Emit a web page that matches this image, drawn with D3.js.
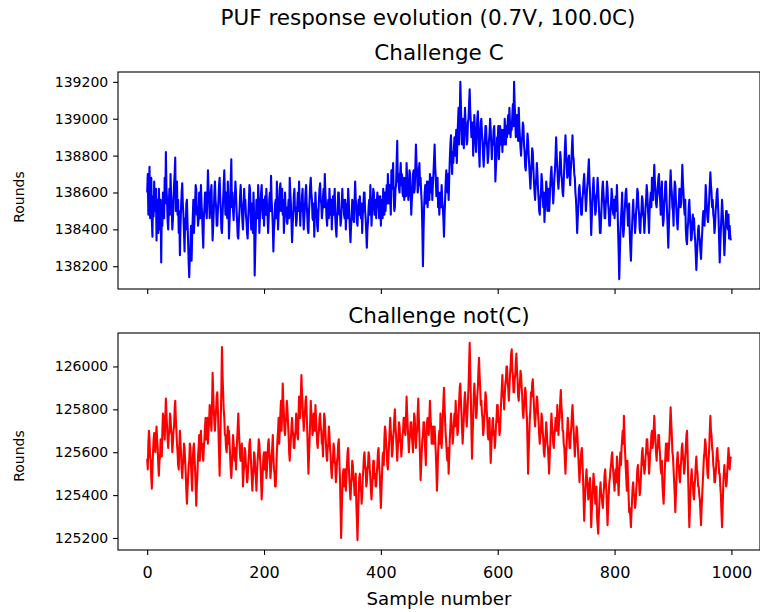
<!DOCTYPE html>
<html>
<head>
<meta charset="utf-8">
<script src="https://cdn.jsdelivr.net/npm/d3@7"></script>
<style>
  body { margin: 0; background: #fff; }
  svg text { font-family: "DejaVu Sans", sans-serif; fill: #000; }
</style>
</head>
<body>
<svg id="canvas" width="760" height="612"></svg>
<script>
// one reading per sample
let sampleStep = 1
let sampleCount = 1000

let challengeC = [
  138600, 138700, 138480, 138620, 138740, 138460, 138560, 138680, 138450, 138360, 138580, 138470, 138660, 138540, 138500, 138620, 138340, 138560, 138480, 138380,
  138620, 138520, 138400, 138560, 138220, 138500, 138420, 138600, 138560, 138460, 138680, 138540, 138820, 138620, 138560, 138440, 138400, 138520, 138620, 138480,
  138700, 138580, 138520, 138400, 138450, 138560, 138640, 138700, 138790, 138500, 138600, 138660, 138480, 138560, 138380, 138500, 138260, 138420, 138520, 138600,
  138650, 138540, 138480, 138380, 138280, 138460, 138400, 138540, 138560, 138440, 138340, 138220, 138140, 138260, 138300, 138420, 138230, 138360, 138460, 138560,
  138380, 138460, 138540, 138640, 138620, 138480, 138520, 138420, 138450, 138600, 138560, 138460, 138640, 138540, 138480, 138380, 138300, 138460, 138520, 138600,
  138600, 138500, 138460, 138580, 138720, 138620, 138580, 138460, 138520, 138600, 138640, 138480, 138340, 138420, 138500, 138600, 138660, 138560, 138520, 138420,
  138420, 138500, 138560, 138640, 138680, 138580, 138500, 138400, 138380, 138480, 138560, 138640, 138720, 138580, 138480, 138600, 138560, 138460, 138660, 138560,
  138350, 138440, 138540, 138660, 138780, 138520, 138600, 138500, 138450, 138540, 138560, 138660, 138600, 138500, 138440, 138360, 138350, 138440, 138500, 138580,
  138640, 138560, 138520, 138440, 138400, 138500, 138620, 138540, 138560, 138480, 138440, 138380, 138350, 138460, 138540, 138640, 138620, 138500, 138400, 138540,
  138460, 138380, 138600, 138480, 138150, 138300, 138420, 138560, 138540, 138460, 138640, 138560, 138380, 138460, 138520, 138600, 138640, 138520, 138460, 138560,
  138420, 138520, 138580, 138480, 138620, 138540, 138480, 138380, 138460, 138560, 138600, 138500, 138690, 138560, 138500, 138420, 138280, 138400, 138440, 138540,
  138560, 138460, 138660, 138560, 138400, 138480, 138520, 138620, 138650, 138500, 138540, 138620, 138480, 138560, 138380, 138480, 138600, 138500, 138520, 138440,
  138430, 138500, 138560, 138460, 138680, 138600, 138540, 138440, 138330, 138420, 138480, 138580, 138620, 138500, 138520, 138420, 138450, 138540, 138600, 138500,
  138660, 138540, 138420, 138520, 138500, 138580, 138620, 138480, 138400, 138460, 138520, 138600, 138640, 138540, 138480, 138400, 138380, 138500, 138560, 138640,
  138680, 138600, 138560, 138460, 138450, 138540, 138360, 138480, 138600, 138520, 138500, 138420, 138390, 138480, 138560, 138620, 138650, 138560, 138540, 138460,
  138500, 138580, 138620, 138520, 138700, 138600, 138540, 138460, 138420, 138520, 138560, 138460, 138620, 138540, 138480, 138560, 138400, 138500, 138580, 138480,
  138560, 138620, 138460, 138400, 138360, 138460, 138520, 138600, 138600, 138480, 138500, 138420, 138450, 138540, 138620, 138520, 138560, 138480, 138460, 138560,
  138400, 138480, 138540, 138460, 138620, 138560, 138480, 138400, 138330, 138420, 138460, 138560, 138540, 138460, 138440, 138560, 138660, 138560, 138520, 138440,
  138420, 138520, 138560, 138480, 138580, 138500, 138460, 138540, 138380, 138480, 138520, 138600, 138600, 138500, 138460, 138380, 138300, 138400, 138440, 138520,
  138560, 138480, 138640, 138540, 138420, 138500, 138540, 138620, 138600, 138480, 138500, 138560, 138460, 138540, 138600, 138520, 138580, 138460, 138500, 138580,
  138420, 138520, 138560, 138460, 138620, 138540, 138480, 138600, 138500, 138580, 138640, 138540, 138700, 138600, 138540, 138640, 138560, 138480, 138720, 138620,
  138680, 138760, 138580, 138500, 138520, 138620, 138640, 138760, 138880, 138660, 138700, 138620, 138600, 138700, 138760, 138640, 138700, 138600, 138580, 138680,
  138560, 138640, 138680, 138580, 138760, 138680, 138640, 138560, 138600, 138720, 138700, 138600, 138480, 138560, 138600, 138700, 138720, 138600, 138620, 138740,
  138860, 138760, 138700, 138600, 138620, 138720, 138760, 138640, 138680, 138600, 138540, 138400, 138200, 138380, 138520, 138600, 138640, 138540, 138560, 138660,
  138520, 138600, 138660, 138560, 138700, 138620, 138600, 138680, 138560, 138640, 138700, 138780, 138860, 138740, 138680, 138580, 138600, 138680, 138520, 138600,
  138480, 138560, 138600, 138520, 138640, 138560, 138520, 138460, 138360, 138480, 138560, 138660, 138720, 138640, 138600, 138700, 138560, 138680, 138780, 138860,
  138910, 138800, 138700, 138820, 138760, 138840, 138900, 138800, 138850, 138940, 138760, 138880, 138980, 139060, 138860, 139000, 139200, 139080, 138960, 138860,
  138920, 139000, 138840, 138940, 139060, 138980, 138940, 138860, 138880, 138980, 139000, 139080, 139160, 139040, 138980, 138900, 138900, 138980, 138800, 138900,
  139020, 138940, 138880, 138820, 138920, 139000, 139040, 138940, 138820, 138740, 138900, 138980, 139000, 138920, 138880, 138800, 138740, 138820, 138880, 138960,
  138960, 138880, 138840, 138760, 138800, 138880, 138920, 139000, 138940, 138860, 138780, 138880, 138860, 138940, 138960, 138860, 138660, 138740, 138800, 138900,
  138880, 138960, 138780, 138860, 138960, 138880, 138860, 138940, 138820, 138900, 138940, 138860, 139000, 138920, 138860, 138960, 138900, 138980, 139020, 138920,
  139060, 138980, 138900, 138980, 138940, 139020, 139080, 138960, 139200, 139080, 139000, 138900, 138920, 139020, 138980, 138880, 139060, 138960, 138900, 138840,
  138800, 138880, 138900, 138980, 138960, 138860, 138820, 138740, 138720, 138800, 138840, 138920, 138880, 138800, 138740, 138680, 138620, 138700, 138760, 138840,
  138820, 138740, 138660, 138600, 138560, 138640, 138680, 138760, 138700, 138620, 138560, 138500, 138480, 138560, 138600, 138700, 138660, 138580, 138520, 138600,
  138440, 138520, 138560, 138660, 138620, 138500, 138540, 138620, 138500, 138560, 138640, 138700, 138740, 138660, 138620, 138540, 138600, 138680, 138720, 138800,
  138900, 138800, 138740, 138660, 138620, 138680, 138720, 138820, 138780, 138700, 138660, 138600, 138580, 138660, 138740, 138840, 138910, 138820, 138760, 138680,
  138700, 138780, 138800, 138700, 138640, 138720, 138760, 138840, 138910, 138800, 138780, 138700, 138680, 138600, 138560, 138480, 138380, 138460, 138520, 138620,
  138640, 138580, 138560, 138480, 138480, 138560, 138600, 138660, 138700, 138620, 138580, 138500, 138560, 138620, 138660, 138720, 138780, 138680, 138600, 138500,
  138370, 138460, 138540, 138620, 138680, 138600, 138560, 138480, 138500, 138580, 138600, 138680, 138620, 138540, 138460, 138380, 138380, 138460, 138540, 138620,
  138660, 138600, 138540, 138460, 138460, 138540, 138580, 138660, 138620, 138540, 138500, 138420, 138420, 138500, 138540, 138620, 138580, 138500, 138480, 138560,
  138460, 138520, 138580, 138500, 138640, 138540, 138400, 138280, 138130, 138260, 138380, 138460, 138520, 138600, 138440, 138360, 138400, 138480, 138540, 138600,
  138620, 138540, 138500, 138420, 138460, 138540, 138380, 138300, 138230, 138340, 138420, 138500, 138560, 138460, 138480, 138380, 138420, 138500, 138540, 138620,
  138600, 138520, 138480, 138400, 138380, 138460, 138500, 138580, 138560, 138480, 138460, 138380, 138440, 138520, 138560, 138640, 138600, 138520, 138460, 138380,
  138500, 138560, 138600, 138520, 138680, 138620, 138560, 138660, 138750, 138660, 138620, 138540, 138520, 138580, 138620, 138680, 138700, 138600, 138560, 138480,
  138600, 138660, 138500, 138420, 138450, 138540, 138580, 138660, 138660, 138560, 138480, 138400, 138300, 138420, 138520, 138640, 138720, 138640, 138600, 138520,
  138500, 138420, 138580, 138660, 138640, 138560, 138500, 138440, 138400, 138480, 138540, 138620, 138620, 138520, 138540, 138640, 138750, 138660, 138600, 138520,
  138480, 138560, 138400, 138340, 138320, 138400, 138440, 138520, 138560, 138480, 138420, 138340, 138350, 138420, 138480, 138400, 138460, 138380, 138340, 138260,
  138180, 138260, 138320, 138400, 138420, 138360, 138340, 138280, 138240, 138320, 138380, 138460, 138500, 138440, 138420, 138520, 138640, 138580, 138520, 138460,
  138440, 138500, 138560, 138640, 138710, 138640, 138600, 138520, 138560, 138480, 138460, 138380, 138420, 138500, 138540, 138600, 138620, 138540, 138460, 138340,
  138220, 138320, 138400, 138480, 138560, 138500, 138440, 138360, 138260, 138340, 138420, 138500, 138500, 138420, 138400, 138480, 138350, 138420, 138360, 138340
]

let challengeNotC = [
  125570, 125520, 125640, 125700, 125660, 125580, 125560, 125480, 125430, 125520, 125600, 125660, 125690, 125620, 125600, 125680, 125720, 125660, 125620, 125540,
  125490, 125560, 125580, 125660, 125640, 125580, 125700, 125780, 125760, 125700, 125660, 125760, 125850, 125780, 125720, 125660, 125620, 125680, 125700, 125780,
  125760, 125700, 125680, 125600, 125640, 125700, 125720, 125800, 125840, 125760, 125700, 125640, 125600, 125540, 125520, 125620, 125700, 125640, 125600, 125520,
  125480, 125540, 125560, 125640, 125620, 125560, 125500, 125420, 125360, 125420, 125480, 125540, 125560, 125640, 125620, 125540, 125480, 125420, 125560, 125620,
  125640, 125580, 125520, 125440, 125350, 125440, 125500, 125580, 125620, 125680, 125560, 125620, 125700, 125620, 125640, 125580, 125560, 125620, 125660, 125720,
  125760, 125660, 125680, 125760, 125640, 125700, 125740, 125820, 125800, 125740, 125700, 125820, 125970, 125880, 125800, 125740, 125700, 125760, 125800, 125860,
  125880, 125800, 125700, 125600, 125490, 125620, 125760, 125900, 126090, 125960, 125880, 125800, 125760, 125680, 125680, 125620, 125600, 125660, 125720, 125640,
  125700, 125640, 125580, 125520, 125480, 125540, 125600, 125680, 125640, 125580, 125560, 125620, 125520, 125600, 125660, 125720, 125780, 125700, 125640, 125580,
  125560, 125600, 125640, 125560, 125440, 125500, 125540, 125620, 125600, 125540, 125520, 125460, 125480, 125540, 125580, 125640, 125660, 125600, 125540, 125480,
  125420, 125480, 125520, 125600, 125580, 125520, 125480, 125420, 125500, 125560, 125600, 125660, 125640, 125580, 125540, 125460, 125380, 125440, 125520, 125580,
  125600, 125520, 125540, 125600, 125480, 125520, 125580, 125640, 125660, 125600, 125560, 125480, 125520, 125580, 125620, 125680, 125580, 125520, 125500, 125440,
  125440, 125520, 125600, 125660, 125700, 125760, 125640, 125700, 125780, 125840, 125700, 125800, 125920, 125840, 125780, 125700, 125680, 125740, 125760, 125840,
  125800, 125740, 125680, 125600, 125560, 125620, 125660, 125720, 125760, 125700, 125680, 125620, 125620, 125680, 125700, 125780, 125740, 125680, 125660, 125760,
  125860, 125800, 125760, 125860, 125960, 125880, 125820, 125760, 125700, 125760, 125780, 125840, 125860, 125780, 125700, 125600, 125500, 125580, 125660, 125740,
  125840, 125780, 125760, 125680, 125700, 125780, 125760, 125700, 125820, 125760, 125700, 125640, 125620, 125680, 125700, 125760, 125780, 125720, 125700, 125640,
  125640, 125580, 125700, 125780, 125760, 125700, 125640, 125580, 125560, 125620, 125640, 125720, 125680, 125620, 125580, 125520, 125480, 125540, 125560, 125640,
  125620, 125560, 125540, 125460, 125500, 125560, 125580, 125640, 125660, 125560, 125480, 125340, 125200, 125320, 125420, 125500, 125520, 125440, 125460, 125520,
  125420, 125480, 125540, 125600, 125620, 125540, 125480, 125420, 125380, 125440, 125480, 125560, 125540, 125480, 125460, 125400, 125440, 125500, 125360, 125280,
  125190, 125300, 125400, 125480, 125500, 125420, 125440, 125360, 125400, 125480, 125520, 125580, 125600, 125540, 125520, 125440, 125460, 125520, 125540, 125600,
  125580, 125520, 125480, 125420, 125380, 125440, 125480, 125560, 125560, 125480, 125500, 125440, 125440, 125500, 125540, 125600, 125620, 125540, 125500, 125420,
  125340, 125420, 125500, 125580, 125600, 125540, 125660, 125720, 125700, 125640, 125600, 125540, 125520, 125580, 125640, 125700, 125760, 125700, 125660, 125580,
  125600, 125660, 125700, 125760, 125800, 125720, 125680, 125620, 125560, 125620, 125660, 125740, 125720, 125660, 125640, 125580, 125620, 125680, 125700, 125760,
  125760, 125700, 125680, 125760, 125860, 125780, 125720, 125660, 125600, 125660, 125680, 125740, 125740, 125680, 125640, 125600, 125700, 125780, 125760, 125680,
  125620, 125680, 125700, 125780, 125850, 125760, 125680, 125580, 125470, 125540, 125600, 125660, 125680, 125740, 125740, 125660, 125600, 125540, 125680, 125740,
  125760, 125700, 125680, 125760, 125840, 125760, 125720, 125640, 125640, 125720, 125700, 125640, 125720, 125660, 125600, 125520, 125420, 125500, 125600, 125660,
  125700, 125640, 125780, 125700, 125620, 125680, 125760, 125840, 125900, 125820, 125740, 125680, 125640, 125580, 125560, 125620, 125500, 125580, 125660, 125720,
  125780, 125720, 125700, 125640, 125680, 125740, 125780, 125720, 125840, 125780, 125760, 125680, 125700, 125780, 125840, 125900, 125920, 125840, 125780, 125700,
  125640, 125700, 125760, 125840, 125880, 125820, 125780, 125720, 125780, 125840, 125900, 126000, 126110, 125980, 125860, 125700, 125570, 125680, 125760, 125860,
  125920, 125860, 125840, 125760, 125780, 125860, 125900, 125980, 126040, 125960, 125900, 125820, 125840, 125780, 125760, 125680, 125700, 125760, 125800, 125880,
  125860, 125800, 125760, 125680, 125660, 125720, 125760, 125660, 125550, 125620, 125680, 125740, 125760, 125680, 125700, 125620, 125660, 125720, 125760, 125820,
  125820, 125740, 125760, 125680, 125700, 125780, 125840, 125900, 125960, 125860, 125880, 125800, 125860, 125920, 125940, 126000, 126000, 125920, 125900, 125840,
  125900, 125960, 126000, 126060, 126080, 125980, 125960, 125880, 125880, 125940, 125960, 126020, 126060, 125980, 125940, 125860, 125840, 125900, 125920, 125980,
  125960, 125900, 125860, 125780, 125760, 125820, 125840, 125900, 125880, 125800, 125760, 125640, 125500, 125600, 125680, 125760, 125800, 125880, 125860, 125920,
  125940, 125880, 125820, 125760, 125720, 125780, 125800, 125860, 125840, 125780, 125740, 125680, 125640, 125680, 125700, 125780, 125760, 125700, 125660, 125600,
  125580, 125640, 125680, 125740, 125700, 125640, 125620, 125560, 125500, 125580, 125640, 125720, 125780, 125720, 125700, 125640, 125620, 125680, 125700, 125760,
  125760, 125700, 125820, 125760, 125680, 125740, 125760, 125840, 125890, 125820, 125780, 125700, 125700, 125640, 125620, 125560, 125500, 125580, 125640, 125700,
  125760, 125700, 125680, 125620, 125620, 125680, 125720, 125780, 125820, 125760, 125700, 125640, 125580, 125640, 125660, 125720, 125700, 125640, 125580, 125520,
  125460, 125520, 125560, 125600, 125620, 125560, 125480, 125380, 125280, 125360, 125420, 125480, 125520, 125460, 125440, 125380, 125400, 125460, 125480, 125400,
  125250, 125320, 125380, 125440, 125500, 125460, 125420, 125360, 125380, 125440, 125300, 125260, 125220, 125300, 125360, 125420, 125460, 125400, 125400, 125360,
  125340, 125400, 125440, 125500, 125520, 125460, 125420, 125340, 125260, 125340, 125400, 125460, 125480, 125520, 125540, 125580, 125600, 125540, 125500, 125460,
  125420, 125480, 125520, 125460, 125580, 125520, 125460, 125400, 125500, 125560, 125600, 125540, 125620, 125660, 125700, 125640, 125770, 125680, 125600, 125540,
  125480, 125420, 125560, 125480, 125400, 125320, 125340, 125300, 125250, 125320, 125380, 125440, 125460, 125400, 125400, 125340, 125360, 125420, 125460, 125520,
  125540, 125480, 125460, 125400, 125420, 125480, 125540, 125600, 125620, 125540, 125560, 125500, 125520, 125580, 125600, 125660, 125660, 125600, 125580, 125500,
  125540, 125600, 125620, 125680, 125700, 125620, 125640, 125700, 125770, 125700, 125660, 125600, 125560, 125620, 125620, 125680, 125680, 125620, 125580, 125520,
  125500, 125560, 125440, 125400, 125360, 125440, 125520, 125580, 125640, 125560, 125580, 125640, 125560, 125620, 125660, 125740, 125810, 125740, 125680, 125600,
  125580, 125520, 125460, 125400, 125320, 125400, 125480, 125560, 125600, 125540, 125540, 125480, 125460, 125520, 125560, 125620, 125640, 125580, 125560, 125500,
  125520, 125580, 125620, 125680, 125700, 125600, 125480, 125360, 125250, 125340, 125420, 125480, 125520, 125460, 125460, 125400, 125380, 125440, 125480, 125540,
  125580, 125520, 125500, 125440, 125440, 125400, 125380, 125320, 125260, 125340, 125400, 125460, 125520, 125580, 125600, 125660, 125640, 125580, 125560, 125500,
  125480, 125560, 125620, 125700, 125770, 125700, 125680, 125620, 125600, 125540, 125520, 125460, 125460, 125500, 125540, 125600, 125620, 125560, 125560, 125500,
  125500, 125440, 125400, 125320, 125250, 125340, 125440, 125500, 125540, 125480, 125500, 125440, 125460, 125520, 125560, 125620, 125580, 125520, 125560, 125580
]

let xTicks = [0, 200, 400, 600, 800, 1000]
let topTicks = [138200, 138400, 138600, 138800, 139000, 139200]
let bottomTicks = [125200, 125400, 125600, 125800, 126000]

let canvas = d3.select("#canvas")

let left = 118
let right = 760

// matplotlib style 5% margins
let padded = (lo, hi) => {
    let m = (hi - lo) * 0.05
    return [lo - m, hi + m]
}

let xScale = d3.scaleLinear()
    .domain(padded(0, sampleCount - 1))
    .range([left, right])

canvas.append("text")
    .attr("x", 428)
    .attr("y", 24.5)
    .attr("text-anchor", "middle")
    .style("font-size", "21.5px")
    .text("PUF response evolution (0.7V, 100.0C)")

let drawPanel = (values, color, title, yTicks, top, bottom, titleY, labelY, showX) => {
    let yScale = d3.scaleLinear()
        .domain(padded(d3.min(values), d3.max(values)))
        .range([bottom, top])

    let g = canvas.append("g")

    let line = d3.line()
        .x((d, i) => xScale(i * sampleStep))
        .y((d) => yScale(d))

    g.append("path")
        .datum(values)
        .attr("d", line)
        .attr("fill", "none")
        .attr("stroke", color)
        .attr("stroke-width", 2.08)
        .attr("stroke-linejoin", "round")

    let yAxis = g.append("g")
        .attr("transform", "translate(" + left + ",0)")
        .call(d3.axisLeft(yScale).tickValues(yTicks).tickSize(4.9).tickPadding(4.9).tickFormat(d3.format("d")))
    yAxis.select(".domain").remove()
    yAxis.selectAll("line").attr("stroke", "#000").attr("stroke-width", 1.1)
    yAxis.selectAll("text").attr("font-family", "DejaVu Sans").style("font-size", "14px")

    let xAxis = g.append("g")
        .attr("transform", "translate(0," + bottom + ")")
        .call(d3.axisBottom(xScale).tickValues(xTicks).tickSize(4.9).tickPadding(4.9).tickFormat(d3.format("d")))
    xAxis.select(".domain").remove()
    xAxis.selectAll("line").attr("stroke", "#000").attr("stroke-width", 1.1)
    xAxis.selectAll("text")
        .attr("font-family", "DejaVu Sans")
        .style("font-size", "16px")
        .attr("y", 28)
        .attr("dy", 0)
    if (!showX) {
        xAxis.selectAll("text").remove()
    }

    g.append("rect")
        .attr("x", left)
        .attr("y", top)
        .attr("width", right - left)
        .attr("height", bottom - top)
        .attr("fill", "none")
        .attr("stroke", "#000")
        .attr("stroke-width", 1.1)

    g.append("text")
        .attr("x", (left + right) / 2)
        .attr("y", titleY)
        .attr("text-anchor", "middle")
        .style("font-size", "21.5px")
        .text(title)

    g.append("text")
        .attr("transform", "translate(24," + labelY + ") rotate(-90)")
        .attr("text-anchor", "middle")
        .style("font-size", "14px")
        .text("Rounds")
}

drawPanel(challengeC, "#0000ff", "Challenge C", topTicks, 72, 289, 60, 197, false)
drawPanel(challengeNotC, "#ff0000", "Challenge not(C)", bottomTicks, 333, 550, 322.5, 456, true)

canvas.append("text")
    .attr("x", (left + right) / 2)
    .attr("y", 605)
    .attr("text-anchor", "middle")
    .style("font-size", "18.2px")
    .text("Sample number")
</script>
</body>
</html>
